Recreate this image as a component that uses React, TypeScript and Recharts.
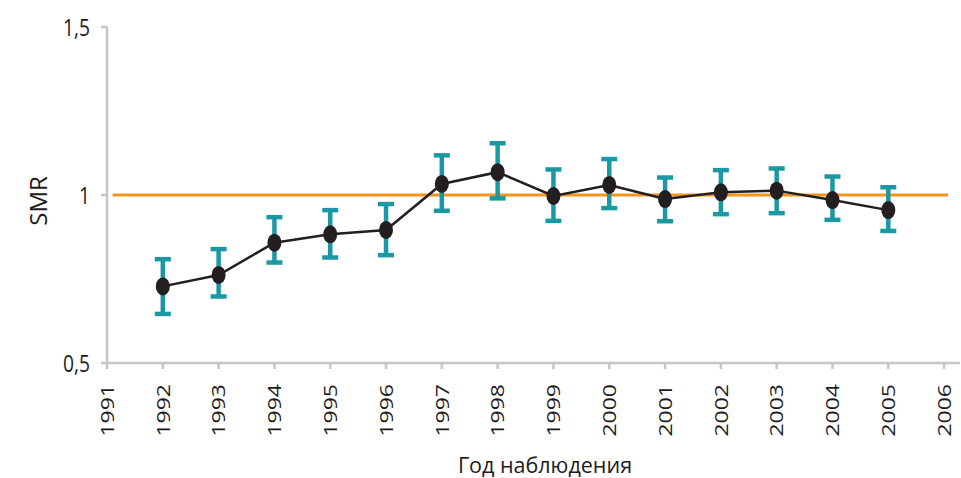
import React from 'react';
import { LineChart, Line, XAxis, YAxis, ErrorBar, ReferenceLine, Label } from 'recharts';

const years = [1992, 1993, 1994, 1995, 1996, 1997, 1998, 1999, 2000, 2001, 2002, 2003, 2004, 2005];
const smr = [0.728, 0.762, 0.858, 0.883, 0.896, 1.033, 1.068, 0.997, 1.030, 0.988, 1.008, 1.013, 0.985, 0.955];
const ciLow = [0.646, 0.698, 0.799, 0.814, 0.821, 0.953, 0.990, 0.923, 0.961, 0.922, 0.943, 0.946, 0.926, 0.893];
const ciHigh = [0.809, 0.839, 0.934, 0.955, 0.973, 1.118, 1.154, 1.076, 1.107, 1.052, 1.074, 1.079, 1.055, 1.023];
const xTicks = [1991, 1992, 1993, 1994, 1995, 1996, 1997, 1998, 1999, 2000, 2001, 2002, 2003, 2004, 2005, 2006];
const yTicks = [0.5, 1, 1.5];

const data = years.map((year, i) => ({
  year,
  smr: smr[i],
  err: [smr[i] - ciLow[i], ciHigh[i] - smr[i]],
}));

const FONT = '"Open Sans", "Liberation Sans", sans-serif';
const AXIS = '#c6c6ca';
const TEXT = '#1e1b1c';

const YearTick = (props: any) => {
  const { x, payload } = props;
  const y0 = 384;
  return (
    <g transform={`translate(${x}, ${y0}) rotate(-90) scale(1, 0.82)`}>
      <text x={0} y={0} textAnchor="end" dy="0.36em" fontSize={23} fontFamily={FONT} fill={TEXT}>
        {payload.value}
      </text>
    </g>
  );
};

const ValueTick = (props: any) => {
  const { x, y, payload } = props;
  return (
    <g transform={`translate(${x}, ${y}) scale(0.8, 1)`}>
      <text x={0} y={0} textAnchor="end" dy="0.36em" fontSize={24} fontFamily={FONT} fill={TEXT}>
        {String(payload.value).replace('.', ',')}
      </text>
    </g>
  );
};

const Dot = (props: any) => {
  const { cx, cy } = props;
  if (cx == null || cy == null) return null;
  return <ellipse cx={cx} cy={cy} rx={7} ry={9} fill="#231f20" />;
};

export default function App() {
  return (
    <div style={{ position: 'absolute', left: 0, top: 0, width: 961, height: 478, background: '#fff' }}>
      <LineChart width={961} height={478} data={data} margin={{ top: 27, right: 1, bottom: 0, left: 0 }}>
        <XAxis
          dataKey="year"
          type="number"
          domain={[1991, 2006]}
          ticks={xTicks}
          interval={0}
          padding={{ left: 0, right: 12 }}
          height={115}
          stroke={AXIS}
          strokeWidth={2.5}
          tickSize={6}
          tick={<YearTick />}
          tickLine={{ stroke: AXIS, strokeWidth: 2.5 }}
        >
          <Label
            content={() => (
              <text x={545} y={473} textAnchor="middle" fontSize={21.5} fontFamily={FONT} fill={TEXT}>
                Год наблюдения
              </text>
            )}
          />
        </XAxis>
        <YAxis
          type="number"
          domain={[0.5, 1.5]}
          ticks={yTicks}
          allowDataOverflow
          width={107}
          stroke={AXIS}
          strokeWidth={2.5}
          tickSize={6}
          tickMargin={11}
          tick={<ValueTick />}
          tickLine={{ stroke: AXIS, strokeWidth: 2.5 }}
        >
          <Label
            content={() => (
              <g transform="translate(38, 201) rotate(-90)">
                <text x={0} y={0} textAnchor="middle" dy="0.36em" fontSize={24} fontFamily={FONT} fill={TEXT}>
                  SMR
                </text>
              </g>
            )}
          />
        </YAxis>
        <ReferenceLine
          segment={[{ x: 1991.1, y: 1 }, { x: 2006.07, y: 1 }]}
          stroke="#f7941e"
          strokeWidth={3}
          ifOverflow="extendDomain"
        />
        <Line
          dataKey="smr"
          stroke="#231f20"
          strokeWidth={2.5}
          dot={<Dot />}
          activeDot={false}
          isAnimationActive={false}
        >
          <ErrorBar dataKey="err" direction="y" width={8} strokeWidth={4.5} stroke="#1a98a3" />
        </Line>
      </LineChart>
    </div>
  );
}
